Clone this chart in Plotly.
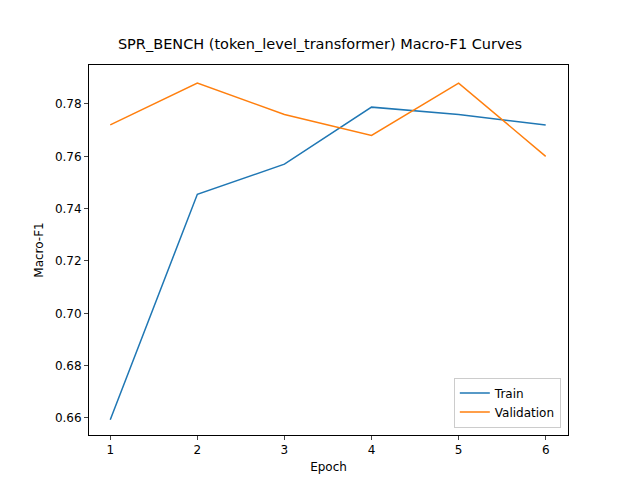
import plotly.graph_objects as go

epochs = [1, 2, 3, 4, 5, 6]
train_f1 = [0.6593, 0.7455, 0.757, 0.7788, 0.776, 0.772]
val_f1 = [0.772, 0.788, 0.776, 0.768, 0.788, 0.760]

fig = go.Figure()
fig.add_trace(go.Scatter(x=epochs, y=train_f1, mode='lines', name='Train',
                         line=dict(color='#1f77b4', width=1.5)))
fig.add_trace(go.Scatter(x=epochs, y=val_f1, mode='lines', name='Validation',
                         line=dict(color='#ff7f0e', width=1.5)))

axis_style = dict(showline=True, linecolor='black', mirror=True, ticks='outside',
                  ticklen=4, showgrid=False, zeroline=False,
                  tickfont=dict(size=12, color='black'))

fig.update_layout(
    autosize=True,
    plot_bgcolor='white', paper_bgcolor='white',
    font=dict(family='DejaVu Sans', size=12, color='black'),
    margin=dict(l=81, r=64, t=57, b=53),
    title=dict(text='SPR_BENCH (token_level_transformer) Macro-F1 Curves',
               x=0.5, xanchor='center', y=0.925, yanchor='middle',
               font=dict(size=14.5)),
    xaxis=dict(title=dict(text='Epoch', standoff=6, font=dict(size=12)),
               range=[0.756, 6.256], tickvals=epochs, **axis_style),
    yaxis=dict(title=dict(text='Macro-F1', standoff=8, font=dict(size=12)),
               range=[0.6535, 0.7949],
               tickvals=[0.66, 0.68, 0.70, 0.72, 0.74, 0.76, 0.78],
               tickformat='.2f', **axis_style),
    legend=dict(x=0.985, y=0.02, xanchor='right', yanchor='bottom',
                bordercolor='#cccccc', borderwidth=1, bgcolor='white',
                font=dict(size=12)),
)

fig.write_html("out.html", default_width='100%', default_height='100vh',
               include_plotlyjs=True)
